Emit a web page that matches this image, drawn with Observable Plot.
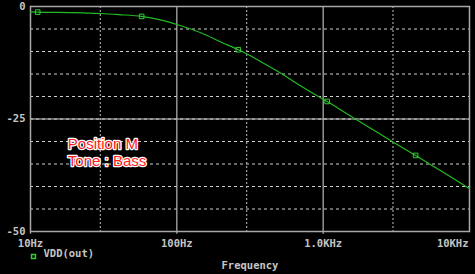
<!DOCTYPE html>
<html>
<head>
<meta charset="utf-8">
<script src="https://cdn.jsdelivr.net/npm/d3@7"></script>
<script src="https://cdn.jsdelivr.net/npm/@observablehq/plot@0.6"></script>
<style>
  html, body { margin: 0; padding: 0; background: #000; }
  #chart svg { display: block; }
</style>
</head>
<body>
<div id="chart"></div>
<script>
// Frequency response VDB(out)
const freqHz = [10, 11.2, 20, 30, 40, 57.5, 80, 100, 150, 200, 263, 300, 400, 500, 700, 1000, 1065, 1500, 2000, 3000, 4285, 6000, 8000, 10000];
const vdb    = [-1.2, -1.25, -1.35, -1.55, -1.8, -2.2, -3.1, -4.0, -6.0, -7.9, -9.6, -10.5, -12.8, -14.6, -17.6, -20.6, -21.1, -24.1, -26.6, -30.1, -33.1, -36.0, -38.5, -40.5];
const markerHz = [11.2, 57.5, 263, 1065, 4285];
const markerDb = [-1.25, -2.2, -9.6, -21.1, -33.1];

const xTicks = [10, 100, 1000, 10000];
const xTickLabels = ["10Hz", "100Hz", "1.0KHz", "10KHz"];
const xDecadeLines = [100, 1000];
const xMidLines = [30, 300, 3000];
const yTicks = [0, -25, -50];
const yTickLabels = ["0", "-25", "-50"];
const yDashed = [-5, -10, -15, -20, -30, -35, -40, -45];

const annotation = [{f: 18.0, db: -32.4, text: "Position M\nTone : Bass"}];

const curve = freqHz.map((f, i) => ({f, db: vdb[i]}));
const markers = markerHz.map((f, i) => ({f, db: markerDb[i]}));
const xt = xTicks.map((f, i) => ({f, label: xTickLabels[i]}));
const yt = yTicks.map((v, i) => ({v, label: yTickLabels[i]}));

const mono = "'DejaVu Sans Mono', monospace";
const gray = "#c4c4c4";
const tickFont = {fill: gray, fontFamily: mono, fontWeight: "bold", fontSize: 10.5};

const chart = Plot.plot({
  width: 475,
  height: 274,
  marginLeft: 30,
  marginRight: 6,
  marginTop: 6,
  marginBottom: 43,
  style: {background: "#000", color: gray},
  x: {type: "log", domain: [10, 10000], axis: null},
  y: {domain: [-50, 0], axis: null},
  marks: [
    Plot.ruleY(yDashed, {stroke: "#d0d0d0", strokeDasharray: "3,3", strokeWidth: 1}),
    Plot.ruleY([-25], {stroke: "#8a8a8a", strokeWidth: 1.5}),
    Plot.ruleY([-25], {stroke: "#d0d0d0", strokeDasharray: "3,3", strokeWidth: 1}),
    Plot.ruleX(xMidLines, {stroke: "#a0a0a0", strokeDasharray: "2,2", strokeWidth: 1.2}),
    Plot.ruleX(xDecadeLines, {stroke: "#b8b8b8", strokeWidth: 1.2}),
    Plot.ruleX(xTicks.slice(0, 3), {y1: -50, y2: -50.6, stroke: "#b8b8b8", strokeWidth: 1.2}),
    Plot.frame({stroke: "#a8a8a8", strokeWidth: 1.5}),
    Plot.line(curve, {x: "f", y: "db", stroke: "#22bb22", strokeWidth: 1.2, curve: "monotone-x"}),
    Plot.dot(markers, {x: "f", y: "db", symbol: "square", r: 2.6, stroke: "#33cc33", fill: "none", strokeWidth: 1}),
    Plot.text(yt, {x: 10, y: "v", text: "label", dx: -5, textAnchor: "end", ...tickFont}),
    Plot.text(xt.filter(d => d.f < 10000), {x: "f", y: -50, text: "label", dy: 12, textAnchor: "middle", ...tickFont}),
    Plot.text(xt.filter(d => d.f === 10000), {x: "f", y: -50, text: "label", dy: 12, dx: -1, textAnchor: "end", ...tickFont}),
    Plot.text(["Frequency"], {frameAnchor: "bottom", dy: 37, ...tickFont}),
    Plot.text(["VDD(out)"], {frameAnchor: "bottom-left", dx: 13, dy: 25, textAnchor: "start", ...tickFont}),
    Plot.dot(["VDD(out)"], {frameAnchor: "bottom-left", dx: 3, dy: 25, symbol: "square", r: 2.2, stroke: "#33cc33", fill: "none"}),
    Plot.text(annotation, {x: "f", y: "db", text: "text", textAnchor: "start", lineHeight: 1.15, fill: "#ff1a1a", stroke: "#ffffff", strokeWidth: 2.5,
      fontFamily: "'Liberation Sans', Arial, sans-serif", fontSize: 15})
  ]
});
document.getElementById("chart").append(chart);
</script>
</body>
</html>
